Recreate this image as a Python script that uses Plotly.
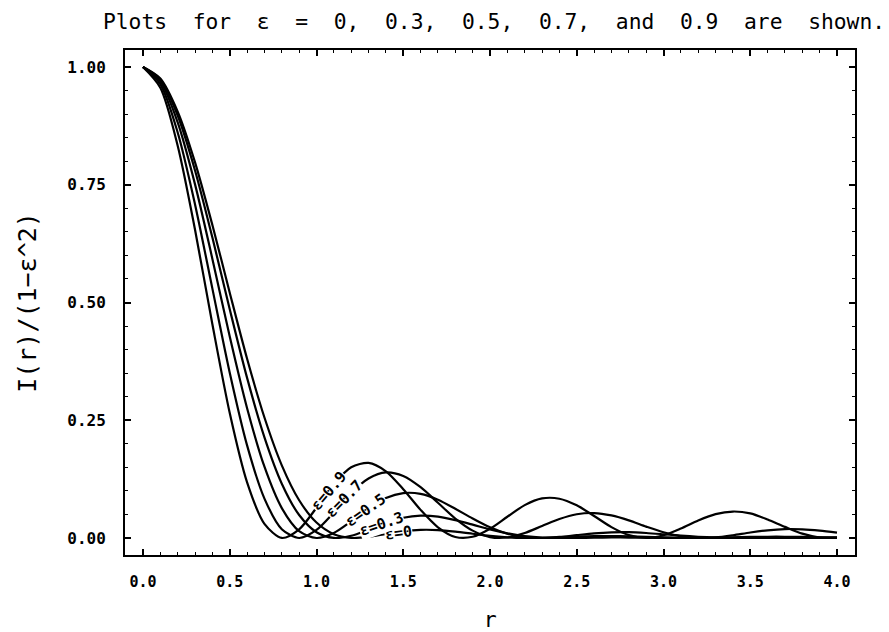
import plotly.graph_objects as go

# radial coordinate r (0.0 ... 4.0)
r_vals = [round(0.1 * i, 1) for i in range(41)]

# normalized intensity
eps_0 = [1.0, 0.9756, 0.9053, 0.7975, 0.6645, 0.5208, 0.3806, 0.2558, 0.1543, 0.0802,
         0.0328, 0.0081, 0.0002, 0.0023, 0.0085, 0.0142, 0.0173, 0.0168, 0.0135, 0.0090,
         0.0045, 0.0015, 0.0001, 0.0003, 0.0015, 0.0029, 0.0039, 0.0041, 0.0036, 0.0026,
         0.0014, 0.0005, 0.0000, 0.0001, 0.0005, 0.0010, 0.0014, 0.0016, 0.0014, 0.0011,
         0.0006]
eps_03 = [1.0, 0.9734, 0.8970, 0.7804, 0.6378, 0.4857, 0.3399, 0.2136, 0.1153, 0.0488,
          0.0123, 0.0002, 0.0048, 0.0179, 0.0324, 0.0430, 0.0474, 0.0453, 0.0379, 0.0283,
          0.0182, 0.0099, 0.0042, 0.0010, 0.0000, 0.0002, 0.0007, 0.0011, 0.0010, 0.0006,
          0.0002, 0.0000, 0.0002, 0.0008, 0.0016, 0.0024, 0.0027, 0.0027, 0.0022, 0.0015,
          0.0008]
eps_05 = [1.0, 0.9695, 0.8824, 0.7508, 0.5925, 0.4277, 0.2756, 0.1513, 0.0635, 0.0146,
          0.0000, 0.0106, 0.0353, 0.0629, 0.0848, 0.0953, 0.0937, 0.0813, 0.0620, 0.0413,
          0.0226, 0.0091, 0.0018, 0.0000, 0.0022, 0.0061, 0.0098, 0.0120, 0.0123, 0.0106,
          0.0080, 0.0052, 0.0027, 0.0010, 0.0002, 0.0000, 0.0001, 0.0003, 0.0004, 0.0003,
          0.0001]
eps_07 = [1.0, 0.9637, 0.8609, 0.7082, 0.5294, 0.3509, 0.1966, 0.0837, 0.0187, 0.0000,
          0.0171, 0.0542, 0.0954, 0.1263, 0.1392, 0.1317, 0.1078, 0.0749, 0.0413, 0.0157,
          0.0019, 0.0011, 0.0106, 0.0254, 0.0403, 0.0504, 0.0530, 0.0479, 0.0375, 0.0242,
          0.0121, 0.0036, 0.0001, 0.0013, 0.0059, 0.0116, 0.0163, 0.0189, 0.0185, 0.0157,
          0.0114]
eps_09 = [1.0, 0.9561, 0.8329, 0.6544, 0.4537, 0.2654, 0.1182, 0.0300, 0.0001, 0.0184,
          0.0643, 0.1148, 0.1502, 0.1594, 0.1416, 0.1037, 0.0597, 0.0227, 0.0022, 0.0026,
          0.0196, 0.0451, 0.0698, 0.0840, 0.0834, 0.0693, 0.0468, 0.0231, 0.0061, 0.0000,
          0.0059, 0.0203, 0.0373, 0.0508, 0.0562, 0.0523, 0.0393, 0.0236, 0.0092, 0.0011,
          0.0009]

series = [("ε=0", eps_0), ("ε=0.3", eps_03), ("ε=0.5", eps_05),
          ("ε=0.7", eps_07), ("ε=0.9", eps_09)]

# inline curve labels: text, r, I, angle (drawn from the bottom one up)
label_text = ["ε=0", "ε=0.3", "ε=0.5", "ε=0.7", "ε=0.9"]
label_r = [1.47, 1.375, 1.285, 1.16, 1.07]
label_i = [0.010, 0.029, 0.059, 0.082, 0.100]
label_angle = [-8, -19, -35, -46, -50]

x_tickvals = [0.0, 0.5, 1.0, 1.5, 2.0, 2.5, 3.0, 3.5, 4.0]
x_ticktext = ["0.0", "0.5", "1.0", "1.5", "2.0", "2.5", "3.0", "3.5", "4.0"]
y_tickvals = [0.0, 0.25, 0.5, 0.75, 1.0]
y_ticktext = ["0.00", "0.25", "0.50", "0.75", "1.00"]

FONT = "DejaVu Sans Mono"
fig = go.Figure()
for name, vals in series:
    fig.add_trace(go.Scatter(x=r_vals, y=vals, mode="lines", name=name,
                             line=dict(color="black", width=2.2, shape="spline", smoothing=0.8)))

for t, xr, yi, ang in zip(label_text, label_r, label_i, label_angle):
    fig.add_annotation(x=xr, y=yi, text=t, textangle=ang, showarrow=False,
                       font=dict(family=FONT, size=15, color="black", weight="bold"),
                       bgcolor="white", borderpad=0)

W, H = 881, 624
fig.update_layout(
    width=W, height=H,
    margin=dict(l=117, r=34, t=42, b=77, autoexpand=False),
    plot_bgcolor="white", paper_bgcolor="white",
    showlegend=False,
    title=dict(text="Plots\u00a0\u00a0for\u00a0\u00a0ε\u00a0\u00a0=\u00a0\u00a00,\u00a0\u00a00.3,\u00a0\u00a00.5,\u00a0\u00a00.7,\u00a0\u00a0and\u00a0\u00a00.9\u00a0\u00a0are\u00a0\u00a0shown.",
               x=0.5055, xref="paper", xanchor="center",
               y=1 - 14 / H, yref="container", yanchor="middle",
               font=dict(family=FONT, size=21.3, color="black")),
)
fig.update_xaxes(
    range=[-0.1037, 4.1037], tickvals=x_tickvals, ticktext=x_ticktext,
    ticks="inside", ticklen=6, tickwidth=1.5, tickcolor="black",
    minor=dict(dtick=0.1, tick0=0, ticks="inside", ticklen=3, tickwidth=1.2, tickcolor="black"),
    showline=True, linewidth=2, linecolor="black", mirror="ticks",
    showgrid=False, zeroline=False, automargin=False,
    tickfont=dict(family=FONT, size=15, color="black", weight="bold"), ticklabelstandoff=12,
    title=dict(text="r", font=dict(family=FONT, size=22, color="black"), standoff=22),
)
fig.update_yaxes(
    range=[-0.0361, 1.0361], tickvals=y_tickvals, ticktext=y_ticktext,
    ticks="inside", ticklen=6, tickwidth=1.5, tickcolor="black",
    minor=dict(dtick=0.05, tick0=0, ticks="inside", ticklen=3, tickwidth=1.2, tickcolor="black"),
    showline=True, linewidth=2, linecolor="black", mirror="ticks",
    showgrid=False, zeroline=False, automargin=False,
    tickfont=dict(family=FONT, size=16, color="black", weight="bold"), ticklabelstandoff=14,
    title=dict(text="I(r)/(1−ε^2)", font=dict(family=FONT, size=25, color="black"), standoff=24),
)

fig.write_html("out.html")
